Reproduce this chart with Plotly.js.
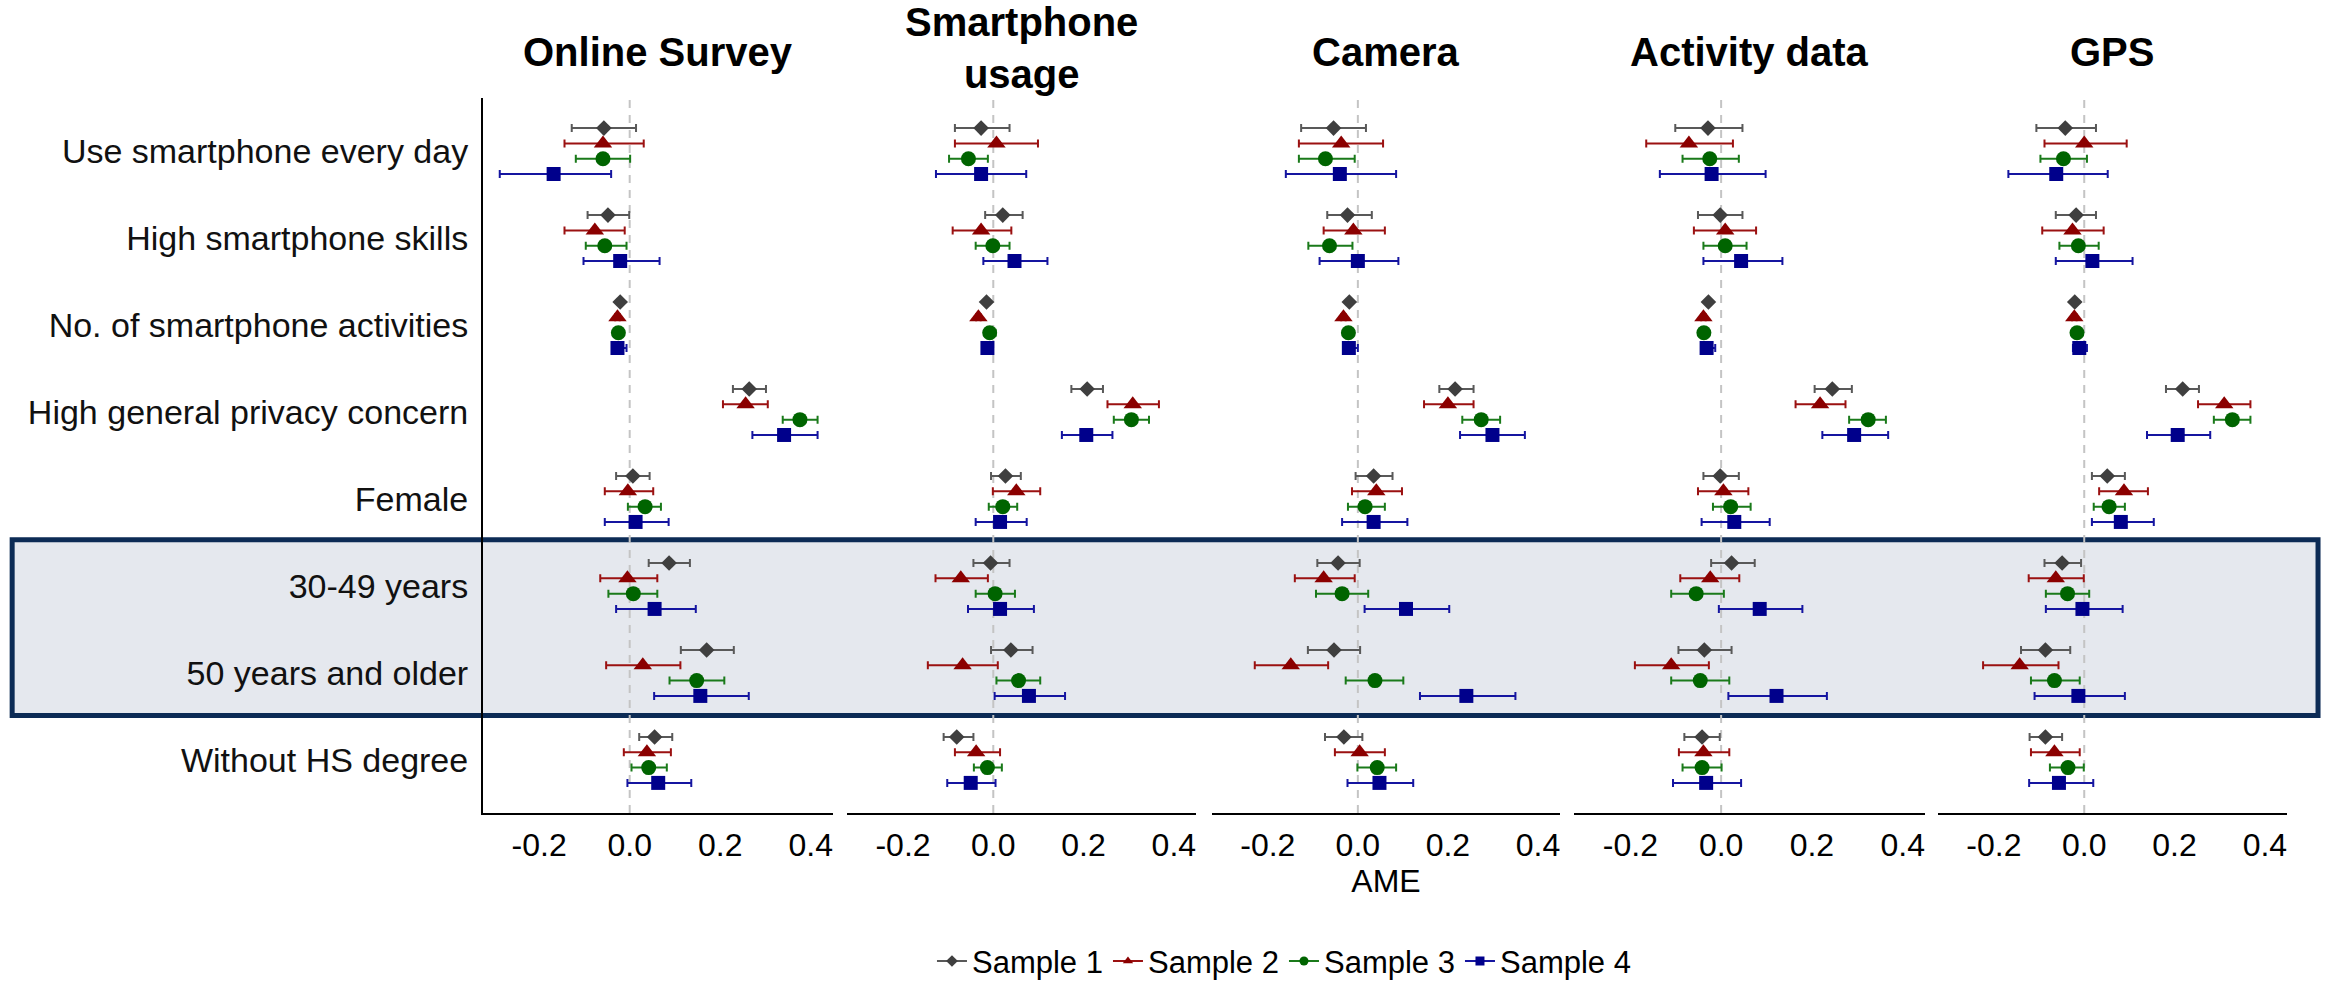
<!DOCTYPE html>
<html><head><meta charset="utf-8">
<script src="https://cdn.plot.ly/plotly-3.0.1.min.js"></script>
<style>html,body{margin:0;padding:0;background:#fff}#chart{width:2328px;height:985px}</style>
</head><body><div id="chart"></div>
<script>
const categories = ['Use smartphone every day','High smartphone skills','No. of smartphone activities','High general privacy concern','Female','30-49 years','50 years and older','Without HS degree'];
const panelTitles = ['Online Survey','Smartphone<br>usage','Camera','Activity data','GPS'];
const sampleNames = ['Sample 1','Sample 2','Sample 3','Sample 4'];
const xTickVals = [-0.2, 0, 0.2, 0.4];
const xTickText = ['-0.2','0.0','0.2','0.4'];
const highlightedCategories = ['30-49 years','50 years and older'];

// rows = Sample 1..4, columns = categories (AME point estimates and CI bounds)
const onlineSurveyEst = [
  [-0.057,-0.048,-0.021,0.264,0.007,0.087,0.170,0.055],
  [-0.059,-0.077,-0.027,0.256,-0.004,-0.005,0.029,0.038],
  [-0.059,-0.055,-0.025,0.376,0.034,0.008,0.148,0.042],
  [-0.168,-0.021,-0.027,0.341,0.013,0.055,0.156,0.063]];
const onlineSurveyLo = [
  [-0.128,-0.093,-0.026,0.228,-0.030,0.042,0.113,0.021],
  [-0.144,-0.144,-0.032,0.206,-0.055,-0.065,-0.052,-0.013],
  [-0.119,-0.097,-0.030,0.338,-0.004,-0.047,0.088,0.004],
  [-0.287,-0.102,-0.034,0.271,-0.055,-0.030,0.054,-0.005]];
const onlineSurveyHi = [
  [0.014,-0.001,-0.016,0.301,0.044,0.133,0.230,0.094],
  [0.031,-0.011,-0.022,0.305,0.052,0.061,0.112,0.091],
  [0.001,-0.007,-0.020,0.415,0.069,0.061,0.209,0.082],
  [-0.041,0.066,-0.007,0.415,0.086,0.146,0.263,0.136]];

const smartphoneEst = [
  [-0.027,0.021,-0.015,0.208,0.027,-0.006,0.039,-0.081],
  [0.007,-0.027,-0.033,0.309,0.051,-0.072,-0.068,-0.038],
  [-0.055,-0.001,-0.008,0.306,0.021,0.004,0.056,-0.013],
  [-0.027,0.047,-0.013,0.206,0.015,0.015,0.079,-0.050]];
const smartphoneLo = [
  [-0.085,-0.018,-0.020,0.173,-0.005,-0.044,-0.005,-0.110],
  [-0.085,-0.090,-0.038,0.253,-0.001,-0.128,-0.145,-0.085],
  [-0.098,-0.039,-0.014,0.267,-0.010,-0.039,0.007,-0.043],
  [-0.127,-0.022,-0.020,0.152,-0.039,-0.056,0.003,-0.102]];
const smartphoneHi = [
  [0.036,0.065,-0.010,0.243,0.061,0.036,0.087,-0.044],
  [0.099,0.040,-0.028,0.367,0.104,-0.012,0.010,0.015],
  [-0.012,0.036,0.005,0.345,0.053,0.048,0.104,0.019],
  [0.073,0.120,-0.006,0.264,0.074,0.090,0.159,0.005]];

const cameraEst = [
  [-0.054,-0.023,-0.019,0.216,0.035,-0.044,-0.053,-0.031],
  [-0.037,-0.010,-0.032,0.200,0.041,-0.076,-0.149,0.004],
  [-0.072,-0.063,-0.021,0.274,0.016,-0.035,0.038,0.043],
  [-0.040,0.000,-0.020,0.299,0.035,0.107,0.241,0.048]];
const cameraLo = [
  [-0.126,-0.068,-0.024,0.181,-0.005,-0.090,-0.111,-0.073],
  [-0.131,-0.076,-0.037,0.147,-0.013,-0.140,-0.229,-0.051],
  [-0.131,-0.110,-0.026,0.232,-0.022,-0.093,-0.027,-0.001],
  [-0.160,-0.085,-0.027,0.227,-0.035,0.015,0.138,-0.023]];
const cameraHi = [
  [0.018,0.031,-0.014,0.257,0.077,0.004,0.005,0.010],
  [0.056,0.060,-0.027,0.257,0.098,-0.007,-0.066,0.060],
  [-0.007,-0.012,-0.016,0.316,0.060,0.023,0.101,0.085],
  [0.085,0.090,0.000,0.371,0.110,0.203,0.350,0.123]];

const activityEst = [
  [-0.029,-0.002,-0.028,0.245,-0.002,0.023,-0.037,-0.042],
  [-0.071,0.009,-0.039,0.218,0.005,-0.024,-0.110,-0.039],
  [-0.025,0.009,-0.038,0.324,0.021,-0.055,-0.046,-0.042],
  [-0.021,0.044,-0.032,0.293,0.029,0.085,0.122,-0.033]];
const activityLo = [
  [-0.101,-0.051,-0.033,0.206,-0.039,-0.022,-0.094,-0.081],
  [-0.165,-0.060,-0.044,0.164,-0.051,-0.090,-0.190,-0.093],
  [-0.085,-0.039,-0.043,0.282,-0.018,-0.110,-0.110,-0.085],
  [-0.135,-0.039,-0.040,0.223,-0.043,-0.005,0.016,-0.106]];
const activityHi = [
  [0.047,0.047,-0.023,0.288,0.039,0.074,0.023,-0.003],
  [0.026,0.077,-0.034,0.274,0.060,0.040,-0.027,0.018],
  [0.039,0.056,-0.033,0.363,0.065,0.006,0.018,0.001],
  [0.098,0.135,-0.013,0.368,0.107,0.179,0.233,0.044]];

const gpsEst = [
  [-0.042,-0.018,-0.021,0.218,0.051,-0.049,-0.086,-0.086],
  [0.000,-0.026,-0.022,0.310,0.088,-0.063,-0.143,-0.066],
  [-0.046,-0.013,-0.016,0.328,0.055,-0.037,-0.066,-0.036],
  [-0.062,0.018,-0.011,0.207,0.081,-0.004,-0.013,-0.056]];
const gpsLo = [
  [-0.106,-0.063,-0.026,0.181,0.017,-0.088,-0.140,-0.121],
  [-0.088,-0.093,-0.027,0.252,0.033,-0.123,-0.224,-0.118],
  [-0.097,-0.055,-0.021,0.287,0.021,-0.085,-0.118,-0.076],
  [-0.168,-0.063,-0.025,0.139,0.017,-0.085,-0.110,-0.122]];
const gpsHi = [
  [0.026,0.026,-0.016,0.254,0.090,-0.007,-0.031,-0.049],
  [0.094,0.043,-0.017,0.368,0.141,-0.001,-0.057,-0.010],
  [0.006,0.032,-0.011,0.368,0.090,0.011,-0.010,-0.001],
  [0.052,0.107,0.006,0.279,0.154,0.085,0.090,0.020]];

// ---- styling / layout ----
const panels = [
  {est: onlineSurveyEst, lo: onlineSurveyLo, hi: onlineSurveyHi},
  {est: smartphoneEst, lo: smartphoneLo, hi: smartphoneHi},
  {est: cameraEst, lo: cameraLo, hi: cameraHi},
  {est: activityEst, lo: activityLo, hi: activityHi},
  {est: gpsEst, lo: gpsLo, hi: gpsHi}];
const domains = [[0,0.1940],[0.2018,0.3952],[0.4041,0.5970],[0.6048,0.7993],[0.8065,1.0]];
const markerColors = ['#3f3f3f','#8b0000','#006400','#00008b'];
const barColors = ['#595959','#9b1111','#1a7a1a','#1515a0'];
const symbols = ['diamond','triangle-up','circle','square'];
const sizes = [12,16,15,14];
const sampleOffset = [-0.264,-0.088,0.088,0.264];
const FONT = 'Liberation Sans, Arial, Helvetica, sans-serif';
const xRange = [-0.324, 0.449];
const yRange = [categories.length - 1 + 0.61, -0.61];

const traces = [];
panels.forEach((p, pi) => {
  const xa = pi === 0 ? 'x' : 'x' + (pi + 1);
  for (let s = 0; s < 4; s++) {
    traces.push({
      type: 'scatter', mode: 'markers', xaxis: xa, yaxis: 'y',
      name: sampleNames[s], showlegend: false,
      x: p.est[s],
      y: categories.map((c, i) => i + sampleOffset[s]),
      text: categories,
      error_x: {type: 'data', symmetric: false,
        array: p.hi[s].map((h, i) => h - p.est[s][i]),
        arrayminus: p.est[s].map((e, i) => e - p.lo[s][i]),
        color: barColors[s], thickness: 2, width: 4},
      marker: {color: markerColors[s], symbol: symbols[s], size: sizes[s], line: {width: 0}},
      hovertemplate: '%{text}<br>AME %{x:.3f}<extra>' + sampleNames[s] + '</extra>'
    });
  }
});
// legend entries (line + marker keys)
for (let s = 0; s < 4; s++) {
  traces.push({type: 'scatter', mode: 'lines+markers', x: [null], y: [null],
    name: sampleNames[s], showlegend: true,
    line: {color: barColors[s], width: 2},
    marker: {color: markerColors[s], symbol: symbols[s], size: 9}});
}

const layout = {
  width: 2328, height: 985,
  margin: {l: 483, r: 41, t: 98, b: 172},
  paper_bgcolor: '#ffffff', plot_bgcolor: 'rgba(0,0,0,0)',
  font: {family: FONT, color: '#000'},
  showlegend: true,
  legend: {orientation: 'h', xref: 'paper', yref: 'container', x: 0.444, xanchor: 'center',
    y: 0.024, yanchor: 'middle', font: {size: 31, family: FONT, color: '#000'},
    itemwidth: 30, entrywidth: 131, entrywidthmode: 'pixels', bgcolor: 'rgba(0,0,0,0)'},
  yaxis: {domain: [0, 1], range: yRange, tickvals: categories.map((c, i) => i), ticktext: categories,
    showline: true, linecolor: '#000', linewidth: 2, ticks: '', showgrid: false, zeroline: false,
    automargin: false,
    tickfont: {size: 34, family: FONT, color: '#111'}, ticklabelstandoff: 6, fixedrange: true},
  shapes: [], annotations: []
};
panels.forEach((p, pi) => {
  const key = pi === 0 ? 'xaxis' : 'xaxis' + (pi + 1);
  layout[key] = {domain: domains[pi], anchor: 'y', range: xRange, automargin: false,
    tickvals: xTickVals, ticktext: xTickText, ticks: '', showgrid: false, zeroline: false,
    showline: true, linecolor: '#000', linewidth: 2,
    tickfont: {size: 32, family: FONT, color: '#000'}, ticklabelstandoff: 3, fixedrange: true};
  layout.shapes.push({type: 'line', xref: pi === 0 ? 'x' : 'x' + (pi + 1), yref: 'paper',
    x0: 0, x1: 0, y0: 0, y1: 1, layer: 'below',
    line: {color: '#c4c4c4', width: 2, dash: '8px,7px'}});
});
layout.xaxis3.title = {text: 'AME', font: {size: 32, family: FONT, color: '#000'}, standoff: 4};

// highlight box around the age categories
const toPaper = v => (yRange[0] - v) / (yRange[0] - yRange[1]);
const i0 = categories.indexOf(highlightedCategories[0]);
const i1 = categories.indexOf(highlightedCategories[1]);
layout.shapes.unshift({type: 'rect', xref: 'paper', yref: 'paper',
  x0: -0.261, x1: 1.0172, y0: toPaper(i0 - 0.53), y1: toPaper(i1 + 0.49), layer: 'below',
  fillcolor: '#e5e8ee', line: {color: '#0c2b55', width: 5}});

// panel titles
const titleY = [1.064, 1.07, 1.064, 1.064, 1.064];
panelTitles.forEach((t, pi) => {
  layout.annotations.push({text: '<b>' + t + '</b>', xref: 'paper', yref: 'paper',
    x: (domains[pi][0] + domains[pi][1]) / 2, y: titleY[pi], xanchor: 'center', yanchor: 'middle',
    showarrow: false, font: {size: 40, family: FONT, color: '#000'}});
});

Plotly.newPlot('chart', traces, layout, {displayModeBar: false, responsive: false});
</script></body></html>
